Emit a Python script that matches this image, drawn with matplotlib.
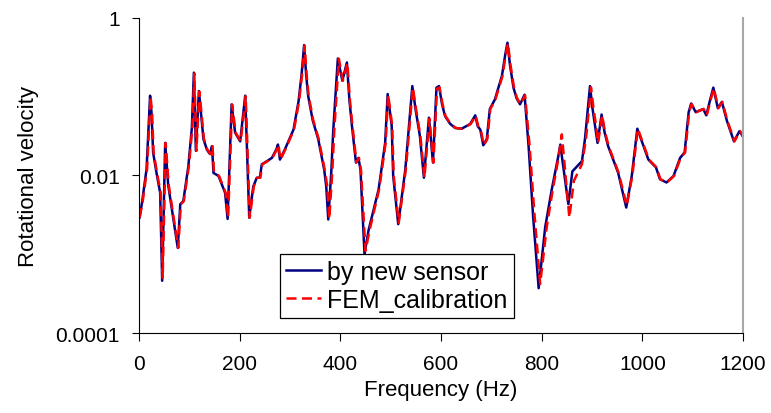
import matplotlib

matplotlib.use("Agg")
import matplotlib.pyplot as plt

# frequency (Hz) and rotational velocity
sensor_freq = [
    1, 6, 15, 22, 25, 28, 35, 42, 46, 52, 58, 77, 82, 88, 98, 105, 109,
    113, 119, 128, 135, 141, 145, 148, 158, 171, 176, 184, 191, 201, 211,
    219, 227, 234, 240, 244, 250, 264, 273, 276, 280, 290, 307, 317, 323,
    328, 332, 336, 345, 356, 368, 372, 376, 382, 386, 391, 395, 404, 413,
    418, 423, 431, 436, 440, 448, 456, 476, 489, 494, 502, 505, 515, 529,
    543, 550, 558, 566, 576, 584, 591, 596, 602, 608, 618, 628, 641, 658,
    668, 673, 678, 684, 691, 697, 707, 721, 728, 732, 737, 744, 750, 757,
    766, 774, 783, 794, 807, 820, 833, 837, 853, 861, 880, 886, 896, 901,
    906, 911, 919, 925, 932, 952, 968, 979, 990, 999, 1012, 1027, 1035,
    1048, 1062, 1075, 1084, 1092, 1097, 1106, 1121, 1127, 1134, 1141,
    1150, 1158, 1168, 1182, 1193, 1200,
]
sensor_vel = [
    0.0029, 0.0045, 0.012, 0.102, 0.06, 0.0195, 0.0105, 0.006, 0.00046,
    0.0257, 0.0075, 0.0012, 0.0043, 0.0047, 0.013, 0.04, 0.2, 0.0204,
    0.117, 0.0288, 0.021, 0.0186, 0.0234, 0.0107, 0.0098, 0.006, 0.0028,
    0.079, 0.0347, 0.0269, 0.102, 0.0029, 0.0072, 0.0093, 0.0093, 0.0138,
    0.0145, 0.0166, 0.0214, 0.0245, 0.0158, 0.0214, 0.038, 0.087, 0.19,
    0.447, 0.19, 0.102, 0.05, 0.0288, 0.0117, 0.0072, 0.00275, 0.011,
    0.038, 0.12, 0.302, 0.158, 0.269, 0.09, 0.0427, 0.0145, 0.0166,
    0.0117, 0.001, 0.002, 0.0066, 0.0257, 0.107, 0.0427, 0.0098, 0.0024,
    0.0117, 0.135, 0.065, 0.0316, 0.0093, 0.0537, 0.0145, 0.129, 0.135,
    0.08, 0.0562, 0.045, 0.0398, 0.0389, 0.0447, 0.0575, 0.0417, 0.038,
    0.024, 0.0288, 0.0692, 0.0912, 0.182, 0.35, 0.479, 0.25, 0.129,
    0.095, 0.0794, 0.105, 0.0234, 0.003, 0.00037, 0.0022, 0.0066, 0.0174,
    0.0245, 0.0043, 0.0112, 0.0151, 0.0288, 0.135, 0.07, 0.0427, 0.0257,
    0.0589, 0.035, 0.0234, 0.0107, 0.0039, 0.0098, 0.0389, 0.0269, 0.0158,
    0.0126, 0.0089, 0.0081, 0.0098, 0.0166, 0.0195, 0.0631, 0.0813,
    0.0631, 0.0692, 0.0575, 0.087, 0.129, 0.0708, 0.0851, 0.049, 0.0269,
    0.0363, 0.0309,
]

fem_freq = [
    1, 7, 16, 23, 26, 29, 36, 43, 47, 53, 59, 78, 83, 89, 99, 106, 110,
    114, 120, 129, 136, 142, 146, 149, 159, 172, 177, 185, 192, 202, 212,
    220, 228, 235, 241, 245, 251, 265, 274, 277, 281, 291, 308, 318, 324,
    329, 333, 337, 346, 357, 369, 374, 378, 384, 388, 393, 397, 405, 414,
    419, 424, 432, 437, 441, 450, 458, 477, 490, 495, 503, 506, 516, 530,
    544, 551, 559, 567, 577, 585, 592, 597, 603, 609, 619, 629, 642, 659,
    669, 674, 679, 685, 692, 698, 708, 722, 729, 733, 738, 745, 751, 758,
    767, 776, 786, 797, 810, 822, 834, 840, 855, 864, 880, 888, 898, 903,
    908, 912, 920, 926, 933, 953, 969, 980, 991, 1000, 1013, 1028, 1036,
    1049, 1063, 1076, 1085, 1093, 1098, 1107, 1122, 1128, 1135, 1142,
    1151, 1159, 1169, 1183, 1194, 1200,
]
fem_vel = [
    0.0029, 0.0045, 0.012, 0.1, 0.06, 0.0195, 0.0105, 0.006, 0.0005,
    0.0257, 0.0075, 0.0012, 0.0043, 0.0047, 0.013, 0.04, 0.195, 0.0204,
    0.115, 0.0288, 0.021, 0.0186, 0.0234, 0.0107, 0.0098, 0.006, 0.0029,
    0.079, 0.0347, 0.0269, 0.1, 0.0029, 0.0072, 0.0093, 0.0093, 0.0138,
    0.0145, 0.0166, 0.0214, 0.0245, 0.0158, 0.0214, 0.038, 0.087, 0.19,
    0.44, 0.19, 0.102, 0.05, 0.0288, 0.0117, 0.0072, 0.0028, 0.011,
    0.038, 0.12, 0.3, 0.158, 0.265, 0.09, 0.0427, 0.0145, 0.0166,
    0.0117, 0.0011, 0.002, 0.0066, 0.0257, 0.105, 0.0427, 0.0098, 0.0025,
    0.0117, 0.13, 0.065, 0.0316, 0.0093, 0.052, 0.0145, 0.125, 0.13,
    0.08, 0.0562, 0.045, 0.0398, 0.0389, 0.0447, 0.057, 0.0417, 0.038,
    0.024, 0.0288, 0.0692, 0.0912, 0.18, 0.35, 0.47, 0.25, 0.129,
    0.095, 0.0794, 0.103, 0.0234, 0.003, 0.00042, 0.0022, 0.0066, 0.0174,
    0.033, 0.0029, 0.0085, 0.0138, 0.0288, 0.13, 0.07, 0.0427, 0.0257,
    0.0575, 0.035, 0.0234, 0.0107, 0.0041, 0.0098, 0.0389, 0.0269, 0.0158,
    0.0126, 0.0089, 0.0081, 0.0098, 0.0166, 0.0195, 0.0631, 0.08,
    0.0631, 0.0692, 0.0575, 0.087, 0.127, 0.0708, 0.0851, 0.049, 0.0269,
    0.0363, 0.0309,
]

x_ticks = [0, 200, 400, 600, 800, 1000, 1200]
y_ticks = [0.0001, 0.01, 1]
y_tick_labels = ["0.0001", "0.01", "1"]

plt.rcParams["font.family"] = ["Liberation Sans", "DejaVu Sans"]

fig = plt.figure(figsize=(7.71, 4.14), dpi=100)
ax = fig.add_axes([0.1803, 0.1932, 0.7834, 0.7621])

ax.plot(sensor_freq, sensor_vel, color="#000080", lw=1.8, label="by new sensor")
ax.plot(fem_freq, fem_vel, color="#ff0000", lw=1.8, ls=(0, (4, 2.2)),
        label="FEM_calibration")

ax.set_yscale("log")
ax.set_xlim(0, 1200)
ax.set_ylim(1e-4, 1)
ax.set_xticks(x_ticks)
ax.set_yticks(y_ticks)
ax.set_yticklabels(y_tick_labels)
ax.minorticks_off()
ax.tick_params(direction="out", length=5.4, width=0.8, labelsize=15)
ax.tick_params(axis="x", pad=10)
ax.tick_params(axis="y", pad=8.5)

ax.spines["top"].set_visible(False)
ax.spines["right"].set_color("#a8a8a8")
ax.spines["right"].set_linewidth(1.5)

ax.set_xlabel("Frequency (Hz)", fontsize=16, labelpad=4)
ax.set_ylabel("Rotational velocity", fontsize=16, labelpad=12)

leg = ax.legend(loc="lower left", bbox_to_anchor=(0.2334, 0.0475),
                borderaxespad=0, fontsize=18, fancybox=False, framealpha=1,
                edgecolor="black", handlelength=1.4, handletextpad=0.25,
                borderpad=0.25, labelspacing=0.15)
leg.get_frame().set_linewidth(0.9)

fig.savefig("out.png", dpi=100)
